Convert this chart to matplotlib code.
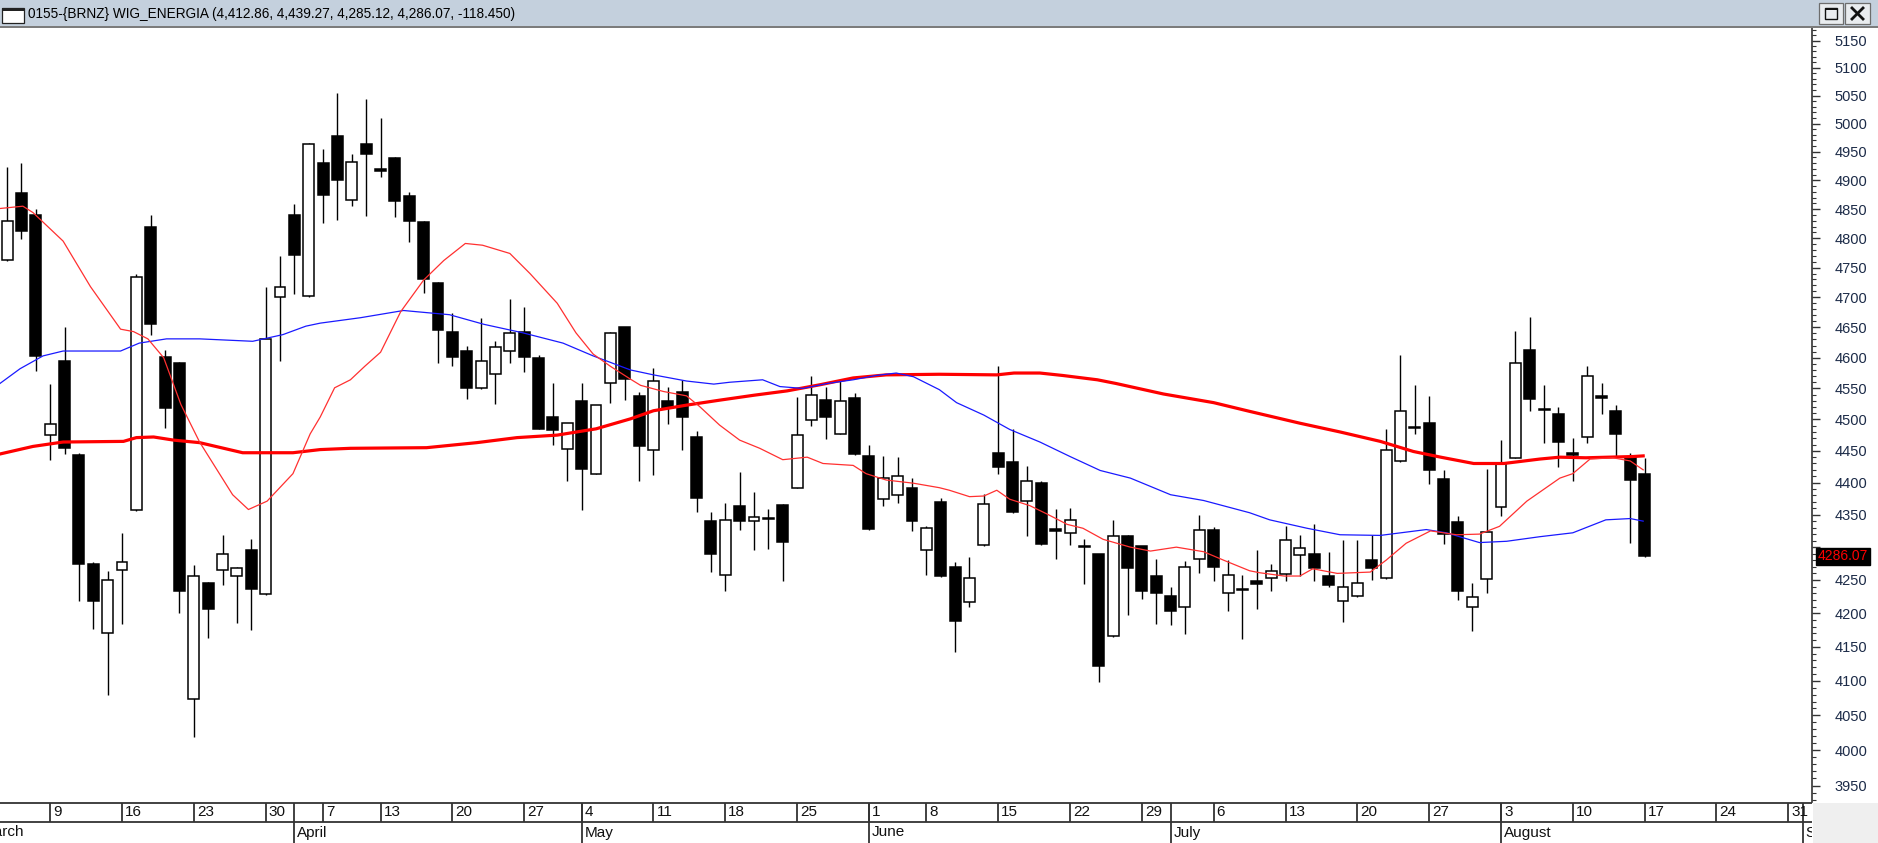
import numpy as np
import pandas as pd
import matplotlib
matplotlib.use("Agg")
import matplotlib.pyplot as plt
from matplotlib.patches import Rectangle
from matplotlib.lines import Line2D
from matplotlib.ticker import FixedLocator, NullFormatter, FixedFormatter

plt.rcParams['font.family'] = ['Liberation Sans', 'DejaVu Sans']

# ---------------- data ----------------
title = "0155-{BRNZ} WIG_ENERGIA (4,412.86, 4,439.27, 4,285.12, 4,286.07, -118.450)"
last_label = "4286.07"
last_close = 4286.07

holidays = ["2015-04-03", "2015-04-06", "2015-05-01", "2015-06-04"]
calendar_start = "2015-03-02"
calendar_end = "2015-09-04"
first_bar = "2015-03-04"
ma_origin = "2015-03-09"

opens = [4763, 4878, 4839, 4475, 4595, 4444, 4275, 4171, 4265, 4357,
         4819, 4601, 4591, 4073, 4245, 4265, 4256, 4295, 4229, 4701,
         4840, 4702, 4930, 4978, 4866, 4964, 4920, 4939, 4873, 4828,
         4724, 4643, 4611, 4550, 4574, 4611, 4642, 4599, 4504, 4453,
         4529, 4414, 4558, 4650, 4538, 4451, 4530, 4544, 4472, 4340,
         4257, 4363, 4340, 4345, 4365, 4392, 4499, 4531, 4477, 4535,
         4442, 4374, 4381, 4392, 4295, 4369, 4270, 4217, 4303, 4446,
         4432, 4371, 4399, 4328, 4322, 4302, 4289, 4166, 4317, 4301,
         4256, 4226, 4209, 4282, 4327, 4231, 4236, 4248, 4253, 4259,
         4288, 4290, 4256, 4219, 4226, 4280, 4253, 4434, 4488, 4495,
         4406, 4338, 4210, 4251, 4362, 4439, 4613, 4517, 4508, 4447,
         4472, 4538, 4513, 4441, 4412.86]
highs = [4924, 4930, 4851, 4557, 4650, 4446, 4277, 4264, 4321, 4740,
         4840, 4613, 4593, 4272, 4247, 4319, 4269, 4312, 4718, 4769,
         4858, 4965, 4954, 5055, 4946, 5044, 5009, 4940, 4880, 4829,
         4725, 4674, 4620, 4665, 4627, 4697, 4683, 4604, 4558, 4495,
         4558, 4523, 4642, 4651, 4545, 4584, 4552, 4564, 4481, 4354,
         4368, 4417, 4385, 4359, 4366, 4536, 4570, 4553, 4562, 4542,
         4460, 4442, 4440, 4407, 4332, 4376, 4277, 4285, 4382, 4586,
         4484, 4426, 4402, 4359, 4361, 4312, 4290, 4342, 4318, 4302,
         4282, 4239, 4279, 4350, 4331, 4280, 4258, 4296, 4275, 4333,
         4319, 4335, 4292, 4311, 4311, 4319, 4484, 4605, 4556, 4537,
         4420, 4348, 4245, 4422, 4467, 4644, 4667, 4556, 4520, 4471,
         4586, 4558, 4524, 4446, 4439.27]
lows = [4761, 4799, 4579, 4435, 4445, 4218, 4176, 4080, 4184, 4355,
        4637, 4486, 4201, 4019, 4163, 4242, 4185, 4175, 4228, 4594,
        4706, 4701, 4826, 4831, 4855, 4838, 4905, 4836, 4794, 4708,
        4592, 4586, 4533, 4549, 4525, 4592, 4577, 4484, 4460, 4403,
        4357, 4413, 4526, 4531, 4402, 4412, 4492, 4451, 4354, 4262,
        4234, 4327, 4295, 4297, 4248, 4391, 4489, 4469, 4476, 4444,
        4327, 4364, 4368, 4325, 4258, 4255, 4143, 4210, 4302, 4414,
        4352, 4317, 4303, 4282, 4303, 4244, 4099, 4165, 4198, 4222,
        4184, 4182, 4169, 4260, 4248, 4203, 4162, 4207, 4234, 4248,
        4256, 4248, 4239, 4187, 4225, 4250, 4252, 4433, 4477, 4397,
        4305, 4220, 4174, 4231, 4348, 4438, 4513, 4462, 4425, 4403,
        4462, 4508, 4442, 4306, 4285.12]
closes = [4830, 4812, 4603, 4493, 4455, 4275, 4219, 4250, 4277, 4734,
          4655, 4519, 4233, 4256, 4206, 4290, 4268, 4237, 4630, 4717,
          4772, 4964, 4874, 4900, 4932, 4946, 4917, 4864, 4830, 4731,
          4646, 4602, 4550, 4594, 4617, 4640, 4602, 4485, 4483, 4495,
          4422, 4523, 4641, 4566, 4457, 4562, 4519, 4504, 4376, 4290,
          4342, 4340, 4346, 4344, 4308, 4475, 4540, 4504, 4529, 4445,
          4328, 4407, 4411, 4340, 4329, 4256, 4188, 4253, 4367, 4424,
          4354, 4402, 4305, 4325, 4342, 4300, 4122, 4317, 4268, 4233,
          4231, 4203, 4270, 4327, 4270, 4258, 4235, 4244, 4263, 4311,
          4299, 4268, 4243, 4239, 4245, 4268, 4452, 4513, 4486, 4419,
          4320, 4233, 4224, 4324, 4430, 4591, 4533, 4515, 4464, 4444,
          4570, 4535, 4477, 4404.52, 4286.07]

# moving averages (positions in bars after 2015-03-09)
ma_fast_pos = [-3.5, -1.9, -1.2, 0.9, 2.8, 4.9, 5.8, 6.8, 7.9, 9.1, 10.4, 12.7, 13.8, 15.1, 16.9,
               18.1, 18.8, 19.8, 20.9, 21.9, 23.0, 24.4, 26.0, 27.4, 28.9, 30.1, 32.0, 33.4, 35.3, 36.6,
               37.8, 39.0, 40.4, 41.1, 42.7, 44.3, 45.2, 46.6, 48.0, 49.4, 51.0, 52.7, 53.8, 55.9, 56.8,
               58.2, 60.1, 61.9, 62.6, 64.0, 65.0, 65.9, 66.8, 68.2, 69.4, 70.8, 71.9, 73.3, 75.2, 76.6,
               78.4, 80.3, 81.7, 83.5, 84.2, 85.9, 87.0, 87.9, 89.6, 91.9, 93.0, 94.4, 96.1, 97.9, 99.5,
               100.9, 102.8, 105.1, 106.0, 107.2, 108.8, 110.0, 110.9]
ma_fast_val = [4851, 4855, 4844, 4795, 4718, 4647, 4643, 4631, 4600, 4524, 4464, 4381, 4358, 4371, 4414,
               4477, 4504, 4551, 4564, 4586, 4609, 4676, 4729, 4762, 4791, 4788, 4774, 4740, 4690, 4641,
               4606, 4586, 4565, 4555, 4545, 4538, 4521, 4491, 4467, 4454, 4436, 4440, 4430, 4427, 4414,
               4404, 4399, 4392, 4388, 4378, 4379, 4388, 4374, 4364, 4351, 4335, 4329, 4312, 4300, 4294,
               4300, 4293, 4280, 4264, 4261, 4256, 4256, 4267, 4260, 4262, 4280, 4306, 4325, 4319, 4320,
               4332, 4371, 4407, 4414, 4437, 4439, 4434, 4420]

ma_mid_pos = [-3.5, -2.1, -0.5, 0.9, 4.9, 6.2, 8.1, 10.4, 14.1, 16.2,
              17.8, 18.8, 21.6, 24.6, 25.5, 27.8, 30.2, 32.9, 35.7, 37.8,
              40.4, 42.0, 44.3, 46.2, 47.3, 49.6, 50.8, 52.4, 54.1, 55.9,
              57.5, 58.9, 60.1, 61.9, 63.1, 65.0, 66.8, 68.9, 71.0, 73.1,
              75.2, 78.0, 80.3, 83.5, 84.9, 87.5, 89.8, 92.6, 95.8, 97.2,
              99.5, 101.4, 103.7, 106.0, 108.3, 110.0, 110.9]
ma_mid_val = [4558, 4582, 4603, 4611, 4611, 4624, 4631, 4631, 4627, 4638,
              4652, 4657, 4666, 4678, 4676, 4671, 4655, 4641, 4624, 4603,
              4580, 4572, 4562, 4557, 4560, 4564, 4553, 4550, 4558, 4564,
              4571, 4575, 4569, 4548, 4527, 4507, 4484, 4464, 4441, 4419,
              4407, 4381, 4372, 4353, 4342, 4329, 4319, 4318, 4327, 4322,
              4307, 4309, 4316, 4322, 4342, 4344, 4340]

ma_slow_pos = [-3.5, -1.2, 0.9, 5.1, 6.0, 7.2, 8.6, 10.4, 13.4, 16.9,
               18.8, 20.9, 26.2, 29.7, 32.5, 35.3, 38.0, 40.4, 42.0, 44.3,
               46.6, 49.0, 51.3, 53.6, 55.9, 58.2, 61.9, 65.9, 67.1, 68.9,
               70.5, 72.9, 74.2, 77.5, 81.0, 83.5, 87.0, 89.8, 92.6, 94.9,
               96.8, 99.1, 101.2, 103.7, 105.1, 106.9, 110.2, 110.9]
ma_slow_val = [4445, 4457, 4464, 4465, 4471, 4472, 4467, 4463, 4447, 4447,
               4452, 4454, 4455, 4463, 4471, 4475, 4485, 4501, 4514, 4523,
               4531, 4539, 4546, 4556, 4567, 4572, 4573, 4572, 4575, 4575,
               4571, 4564, 4558, 4541, 4527, 4513, 4494, 4480, 4465, 4449,
               4440, 4430, 4430, 4437, 4440, 4439, 4441, 4442]

y_major = list(range(3950, 5151, 50))
y_minor = [v for v in range(3930, 5171, 10) if v % 50 != 0]
y_hidden = [4300]   # covered by the last-price box in the reference
month_names = {3: "March", 4: "April", 5: "May", 6: "June", 7: "July",
               8: "August", 9: "September"}

# ---------------- layout (pixels) ----------------
W, H = 1878, 843
TITLE_H = 26
PLOT_TOP = 28
PLOT_BOT = 802
PLOT_RIGHT = 1812
X0_PX = -21.62      # pixel x of calendar index 0
DX_PX = 14.364      # pixels per trading day

fig = plt.figure(figsize=(W / 100, H / 100), dpi=100)
fig.patch.set_facecolor("white")


def frect(x0, y0, x1, y1, **kw):
    r = Rectangle((x0 / W, 1 - y1 / H), (x1 - x0) / W, (y1 - y0) / H,
                  transform=fig.transFigure, **kw)
    fig.patches.append(r)
    return r


def fline(xs, ys, **kw):
    fig.lines.append(Line2D([x / W for x in xs], [1 - y / H for y in ys],
                            transform=fig.transFigure, **kw))


# trading calendar
cal = pd.bdate_range(calendar_start, calendar_end).difference(pd.DatetimeIndex(holidays))
cal_pos = {d: i for i, d in enumerate(cal)}
bar_x = cal_pos[pd.Timestamp(first_bar)] + np.arange(len(opens))
ma_base = cal_pos[pd.Timestamp(ma_origin)]

xlim = ((0 - X0_PX) / DX_PX, (PLOT_RIGHT - X0_PX) / DX_PX)

ax = fig.add_axes([0, 1 - PLOT_BOT / H, PLOT_RIGHT / W, (PLOT_BOT - PLOT_TOP) / H])
ax.set_facecolor("white")
ax.set_yscale("log")
ax.set_xlim(*xlim)
ax.set_ylim(3927, 5173)

o = np.array(opens, float)
hi = np.array(highs, float)
lo = np.array(lows, float)
c = np.array(closes, float)
up = c >= o

ax.vlines(bar_x, lo, hi, color="black", lw=1.0, zorder=2)
ax.bar(bar_x, np.abs(c - o), bottom=np.minimum(o, c), width=0.76,
       color=np.where(up, "white", "black"), edgecolor="black", linewidth=1.1, zorder=3)

ax.plot(ma_base + np.array(ma_slow_pos), ma_slow_val, color="#ff0000", lw=2.3, zorder=4,
        solid_joinstyle="round")
ax.plot(ma_base + np.array(ma_mid_pos), ma_mid_val, color="#1a1aff", lw=0.9, zorder=4)
ax.plot(ma_base + np.array(ma_fast_pos), ma_fast_val, color="#ff3030", lw=0.9, zorder=4)

# axes styling
for s in ["top", "left", "bottom"]:
    ax.spines[s].set_visible(False)
ax.spines["right"].set_color("#333333")
ax.spines["right"].set_linewidth(1.2)
ax.set_xticks([])
ax.yaxis.tick_right()
ax.yaxis.set_major_locator(FixedLocator(y_major))
ax.yaxis.set_major_formatter(FixedFormatter(["" if v in y_hidden else str(v) for v in y_major]))
ax.yaxis.set_minor_locator(FixedLocator(y_minor))
ax.yaxis.set_minor_formatter(NullFormatter())
ax.tick_params(axis="y", which="major", direction="out", length=5.8, width=1.0,
               color="#333333", pad=10.5, labelsize=10.5, labelcolor="#1c2b48")
ax.tick_params(axis="y", which="minor", direction="out", length=3.0, width=0.8,
               color="#333333")

# last price box
pdisp = ax.transData.transform((xlim[1], last_close))
pfig = fig.transFigure.inverted().transform(pdisp)
fig.text(1843 / W, pfig[1], last_label, ha="center", va="center", fontsize=10,
         color="#ff0000", zorder=10,
         bbox=dict(boxstyle="square,pad=0.12", facecolor="black", edgecolor="black"))

# ---------------- date axis ----------------
axd = fig.add_axes([0, 0, PLOT_RIGHT / W, (H - PLOT_BOT) / H])
axd.set_xlim(*xlim)
axd.set_ylim(0, H - PLOT_BOT)
axd.axis("off")
top_y = H - PLOT_BOT - 1
mid_y = H - 822
axd.axhline(top_y, color="#333333", lw=1.3)
axd.axhline(mid_y, color="#333333", lw=1.3)
dates = pd.Series(cal)
iso = dates.dt.isocalendar()
wk = dates.groupby([iso.year, iso.week]).first()
mo = dates.groupby([dates.dt.year, dates.dt.month]).first()
off = 3 / DX_PX
for d in wk:
    i = cal_pos[d]
    if i < xlim[0] or i > xlim[1]:
        continue
    axd.vlines(i, mid_y, top_y, color="#333333", lw=1.3)
    axd.text(i + off, (mid_y + top_y) / 2, str(d.day), ha="left", va="center",
             fontsize=11, color="#111111", clip_on=True)
for d in mo:
    i = cal_pos[d]
    axd.vlines(i, 0, top_y, color="#333333", lw=1.3)
    axd.text(i + off, mid_y / 2, month_names[d.month], ha="left", va="center",
             fontsize=11, color="#111111", clip_on=True)

# bottom-right grey box
frect(PLOT_RIGHT + 1, PLOT_BOT + 1, W, H, facecolor="#efefef", edgecolor="none", zorder=1)

# ---------------- title bar ----------------
frect(0, 0, W, TITLE_H, facecolor="#c4d0dd", edgecolor="none", zorder=1)
frect(0, TITLE_H, W, PLOT_TOP, facecolor="#7c7c7c", edgecolor="none", zorder=1)
# window icon
frect(2, 8, 24, 23, facecolor="white", edgecolor="#222222", linewidth=0.9, zorder=2)
frect(2, 8, 24, 11, facecolor="#222222", edgecolor="none", zorder=3)
fig.text(28 / W, 1 - 14 / H, title, ha="left", va="center", fontsize=9.8, color="black")
# buttons
for bx0, bx1 in [(1819, 1843), (1845, 1870)]:
    frect(bx0, 3, bx1, 24, facecolor="#e9ecef", edgecolor="#6d6d6d", linewidth=0.9, zorder=2)
frect(1825, 8, 1837, 19, facecolor="none", edgecolor="#111111", linewidth=1.0, zorder=3)
frect(1825, 8, 1837, 10, facecolor="#111111", edgecolor="none", zorder=3)
fline([1852, 1863], [8, 19], color="#111111", lw=2.0, zorder=3)
fline([1852, 1863], [19, 8], color="#111111", lw=2.0, zorder=3)

fig.savefig("out.png", dpi=100, facecolor="white")
